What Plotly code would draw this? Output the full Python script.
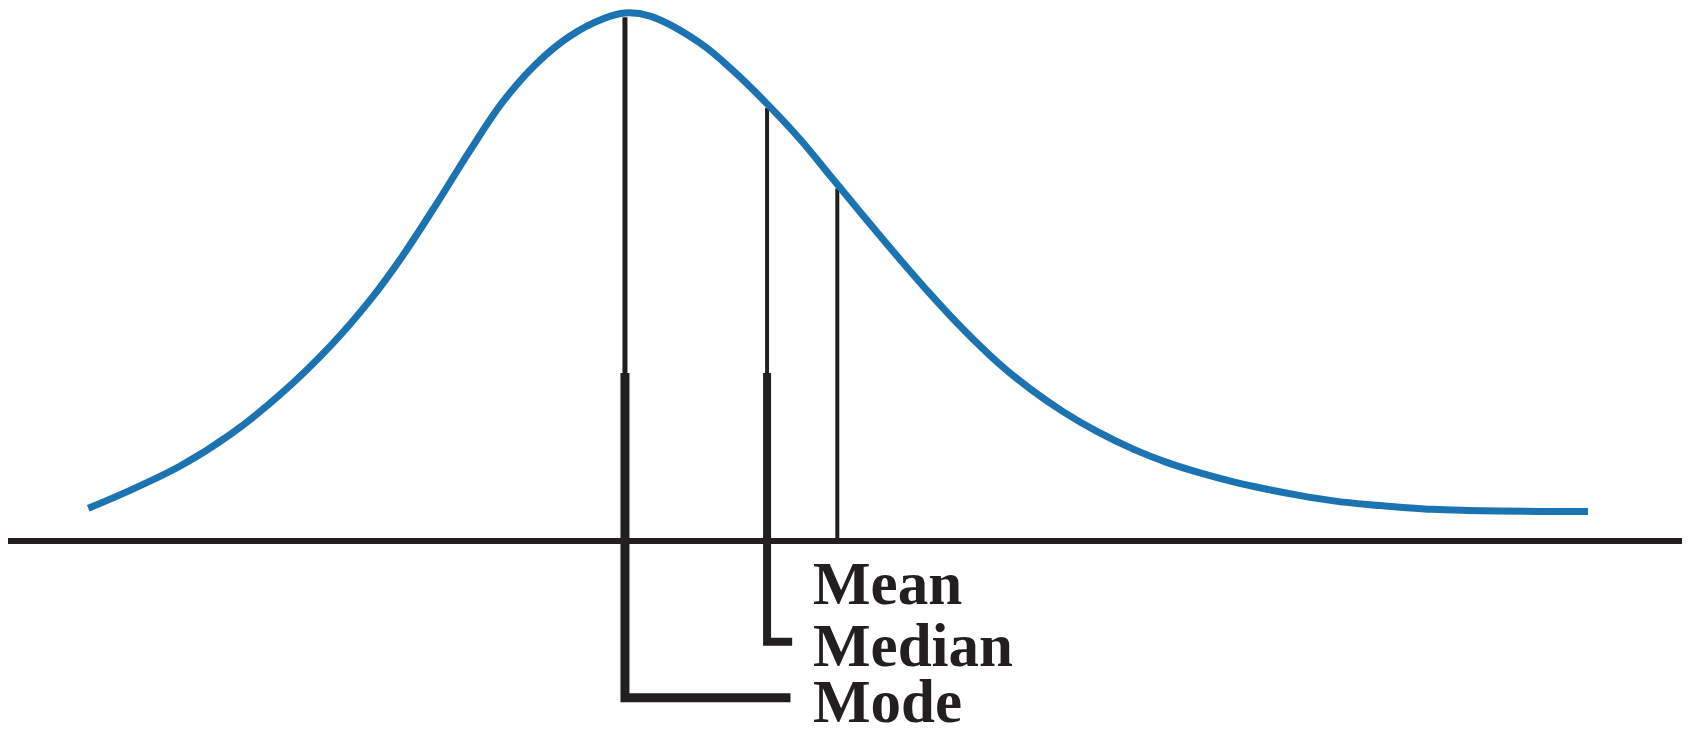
import numpy as np
import plotly.graph_objects as go

# Skewed distribution curve (relative units; baseline at 0, peak = 100)
curve_x = [4.8, 7.3, 10.3, 13.3, 16.3, 19.3, 21.7, 23.6, 25.7, 27.6, 29.6, 31.6, 33.6, 35.6,
           36.9, 38.4, 41.4, 43.4, 45.4, 47.4, 49.3, 51.1, 53.2, 55.1, 57.1, 59.2, 61.1,
           63.1, 65.1, 67.3, 69.3, 71.3, 73.3, 75.3, 77.3, 79.3, 81.3, 83.3, 85.2, 87.3,
           89.2, 91.6, 94.5]
curve_y = [6.2, 9.6, 14.2, 20.2, 27.8, 37.0, 45.8, 54.0, 64.2, 73.8, 83.2, 90.4, 95.6, 98.9,
           100.0, 99.4, 94.3, 89.0, 82.8, 76.0, 68.7, 61.8, 53.9, 47.0, 40.2, 33.8, 28.9,
           24.5, 20.8, 17.4, 14.9, 12.9, 11.2, 9.8, 8.6, 7.6, 6.9, 6.4, 6.0, 5.8,
           5.7, 5.6, 5.6]

# Measures of central tendency (x positions)
measure_names = ["Mode", "Median", "Mean"]
measure_x = [36.9, 45.4, 49.6]
label_y = [-30.3, -19.7, -7.9]

# layout constants
axis_start, axis_end = 0.0, 100.6
thick_top = 31.8
label_x = 48.1
elbow_y = [-29.7, -19.1]
elbow_end = [46.8, 46.9]
BLUE = "#1b74b1"
INK = "#231f20"

fig = go.Figure()
fig.add_trace(go.Scatter(x=curve_x, y=curve_y, mode="lines",
                         line=dict(color=BLUE, width=7, shape="spline", smoothing=1.0),
                         hoverinfo="skip", showlegend=False))

shapes = []
# baseline
shapes.append(dict(type="line", xref="x", yref="y", x0=axis_start, x1=axis_end, y0=0, y1=0,
                   line=dict(color=INK, width=6)))

tops = np.interp(measure_x, curve_x, curve_y)
thin_w = [5, 4, 4]
for i, (name, mx) in enumerate(zip(measure_names, measure_x)):
    shapes.append(dict(type="line", xref="x", yref="y", x0=mx, x1=mx,
                       y0=0 if name == "Mean" else thick_top,
                       y1=float(tops[i]) - 0.8, line=dict(color=INK, width=thin_w[i]), layer="below"))

# thick elbow connectors for mode and median
thick_w = [9, 8]
for i in range(2):
    mx = measure_x[i]
    ey = elbow_y[i]
    path = f"M {mx},{thick_top} L {mx},{ey} L {elbow_end[i]},{ey}"
    shapes.append(dict(type="path", xref="x", yref="y", path=path,
                       line=dict(color=INK, width=thick_w[i])))

annotations = []
for name, ly in zip(measure_names, label_y):
    annotations.append(dict(x=label_x, y=ly, xref="x", yref="y", text=f"<b>{name}</b>",
                            showarrow=False, xanchor="left", yanchor="middle",
                            height=52, valign="middle", borderpad=0,
                            font=dict(family="Liberation Serif", size=61, color=INK)))

fig.update_layout(
    width=1682, height=726,
    margin=dict(l=0, r=0, t=0, b=0),
    paper_bgcolor="white", plot_bgcolor="white",
    xaxis=dict(range=[0, 100.6], visible=False, fixedrange=True),
    yaxis=dict(range=[-36.55, 100.95], visible=False, fixedrange=True),
    shapes=shapes, annotations=annotations,
)

fig.write_html("out.html")
